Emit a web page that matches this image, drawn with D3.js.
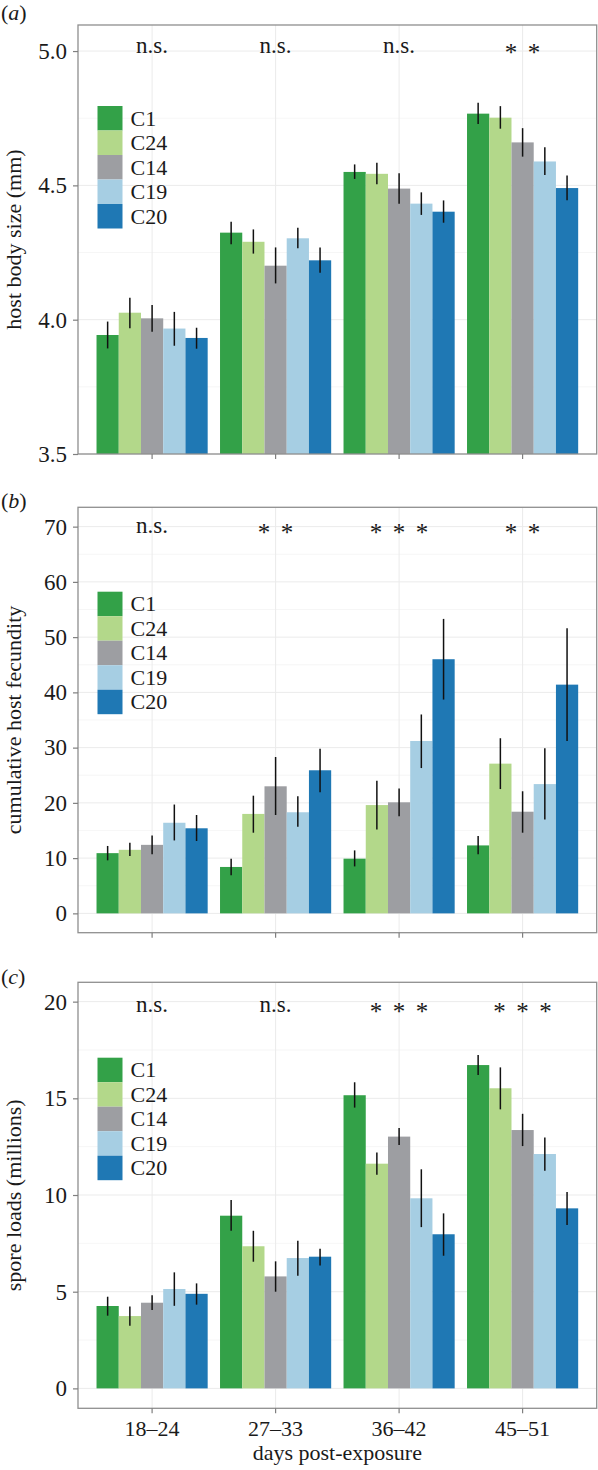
<!DOCTYPE html>
<html>
<head>
<meta charset="utf-8">
<script src="https://cdn.jsdelivr.net/npm/d3@7"></script>
<style>
  html, body { margin: 0; padding: 0; background: #fff; }
  svg { display: block; }
  text { font-family: "Liberation Serif", "Times New Roman", serif; fill: #1a1a1a; }
</style>
</head>
<body>
<script>
// ---------- data ----------
const groups = ["18–24", "27–33", "36–42", "45–51"];
const strains = ["C1", "C24", "C14", "C19", "C20"];
const strainColors = ["#33a148", "#b3d88a", "#9d9ea2", "#a6cee3", "#1f78b4"];

// (a) host body size (mm): per group, per strain
const sizeMean = [[3.943, 4.026, 4.005, 3.967, 3.932], [4.324, 4.290, 4.201, 4.303, 4.221], [4.550, 4.543, 4.488, 4.432, 4.402], [4.767, 4.752, 4.660, 4.589, 4.490]];
const sizeLo   = [[3.893, 3.968, 3.955, 3.903, 3.892], [4.281, 4.246, 4.135, 4.266, 4.175], [4.524, 4.504, 4.432, 4.390, 4.361], [4.728, 4.711, 4.607, 4.539, 4.445]];
const sizeHi   = [[3.993, 4.082, 4.055, 4.029, 3.970], [4.365, 4.336, 4.269, 4.342, 4.269], [4.578, 4.584, 4.545, 4.474, 4.444], [4.808, 4.795, 4.713, 4.642, 4.537]];
const sizeTicks = [3.5, 4.0, 4.5, 5.0];
const sizeMinor = [3.75, 4.25, 4.75];
const sizeSig = ["n.s.", "n.s.", "n.s.", "**"];

// (b) cumulative host fecundity
const fecMean = [[10.9, 11.5, 12.4, 16.4, 15.4], [8.4, 18.0, 23.0, 18.3, 25.9], [9.9, 19.6, 20.1, 31.2, 46.0], [12.3, 27.1, 18.4, 23.4, 41.4]];
const fecLo   = [[9.6, 10.4, 10.7, 13.2, 13.1], [6.9, 14.6, 17.8, 15.7, 21.9], [8.5, 15.2, 17.6, 26.3, 38.7], [10.7, 22.5, 14.6, 17.0, 31.2]];
const fecHi   = [[12.2, 12.8, 14.1, 19.7, 17.8], [9.9, 21.3, 28.3, 21.2, 29.8], [11.4, 24.0, 22.6, 36.0, 53.3], [14.0, 31.7, 22.1, 29.9, 51.6]];
const fecTicks = [0, 10, 20, 30, 40, 50, 60, 70];
const fecMinor = [5, 15, 25, 35, 45, 55, 65];
const fecSig = ["n.s.", "**", "***", "**"];

// (c) spore loads (millions)
const sporeMean = [[4.26, 3.74, 4.43, 5.14, 4.89], [8.93, 7.35, 5.79, 6.74, 6.81], [15.16, 11.62, 13.02, 9.83, 7.97], [16.72, 15.52, 13.36, 12.12, 9.31]];
const sporeLo   = [[3.76, 3.24, 4.05, 4.27, 4.33], [8.15, 6.55, 5.00, 5.83, 6.36], [14.52, 11.05, 12.59, 8.34, 6.86], [16.20, 14.43, 12.53, 11.26, 8.45]];
const sporeHi   = [[4.74, 4.24, 4.81, 6.00, 5.43], [9.74, 8.15, 6.57, 7.64, 7.22], [15.83, 12.20, 13.47, 11.33, 9.05], [17.24, 16.60, 14.20, 12.98, 10.16]];
const sporeTicks = [0, 5, 10, 15, 20];
const sporeMinor = [2.5, 7.5, 12.5, 17.5];
const sporeSig = ["n.s.", "n.s.", "***", "***"];

// ---------- layout ----------
const W = 598, H = 1470;
const left = 78, right = 596.7;

const panels = [
  { label: "a", title: "host body size (mm)", mean: sizeMean, lo: sizeLo, hi: sizeHi,
    ticks: sizeTicks, minor: sizeMinor, sig: sizeSig, fmt: d3.format(".1f"),
    top: 25, bottom: 454, domain: [3.5, 5.097], base: 3.5, sigVal: 5.0, sigDy: 2,
    labelY: 20, legendTop: 106 },
  { label: "b", title: "cumulative host fecundity", mean: fecMean, lo: fecLo, hi: fecHi,
    ticks: fecTicks, minor: fecMinor, sig: fecSig, fmt: d3.format("d"),
    top: 507.3, bottom: 932.7, domain: [-3.5, 73.5], base: 0, sigVal: 70, sigDy: 6,
    labelY: 508, legendTop: 591.7 },
  { label: "c", title: "spore loads (millions)", mean: sporeMean, lo: sporeLo, hi: sporeHi,
    ticks: sporeTicks, minor: sporeMinor, sig: sporeSig, fmt: d3.format("d"),
    top: 982.3, bottom: 1408.3, domain: [-1.03, 21.0], base: 0, sigVal: 20, sigDy: 10,
    labelY: 984, legendTop: 1057.7 }
];

const svg = d3.select("body").append("svg").attr("width", W).attr("height", H);

const x0 = d3.scaleBand().domain(groups).range([left, right]).paddingInner(0.1).paddingOuter(0.15);
const x1 = d3.scaleBand().domain(strains).range([0, x0.bandwidth()]).padding(0);
const color = d3.scaleOrdinal().domain(strains).range(strainColors);

panels.forEach((p, pi) => {
  const y = d3.scaleLinear().domain(p.domain).range([p.bottom, p.top]);
  const g = svg.append("g");

  // minor grid
  g.selectAll(".minor").data(p.minor).join("line")
    .attr("x1", left).attr("x2", right)
    .attr("y1", d => y(d)).attr("y2", d => y(d))
    .attr("stroke", "#f2f2f2").attr("stroke-width", 0.7);
  // major grid
  g.selectAll(".major").data(p.ticks).join("line")
    .attr("x1", left).attr("x2", right)
    .attr("y1", d => y(d)).attr("y2", d => y(d))
    .attr("stroke", "#ebebeb").attr("stroke-width", 1);
  g.selectAll(".vmajor").data(groups).join("line")
    .attr("x1", d => x0(d) + x0.bandwidth() / 2).attr("x2", d => x0(d) + x0.bandwidth() / 2)
    .attr("y1", p.top).attr("y2", p.bottom)
    .attr("stroke", "#ebebeb").attr("stroke-width", 1);

  // bars
  const gg = g.selectAll(".grp").data(groups).join("g")
    .attr("transform", d => `translate(${x0(d)},0)`);
  gg.selectAll("rect").data((d, gi) => strains.map((s, si) => ({ s, v: p.mean[gi][si] })))
    .join("rect")
    .attr("x", d => x1(d.s)).attr("width", x1.bandwidth())
    .attr("y", d => y(d.v)).attr("height", d => y(p.base) - y(d.v))
    .attr("fill", d => color(d.s));
  gg.selectAll("line.err").data((d, gi) => strains.map((s, si) => ({ s, lo: p.lo[gi][si], hi: p.hi[gi][si] })))
    .join("line").attr("class", "err")
    .attr("x1", d => x1(d.s) + x1.bandwidth() / 2).attr("x2", d => x1(d.s) + x1.bandwidth() / 2)
    .attr("y1", d => y(d.lo)).attr("y2", d => y(d.hi))
    .attr("stroke", "#111").attr("stroke-width", 1.5);

  // significance labels
  p.sig.forEach((s, gi) => {
    const cx = x0(groups[gi]) + x0.bandwidth() / 2;
    if (s === "n.s.") {
      g.append("text").attr("x", cx).attr("y", y(p.sigVal) + p.sigDy)
        .attr("text-anchor", "middle").attr("font-size", 23).text(s);
    } else {
      const n = s.length;
      for (let k = 0; k < n; k++) {
        g.append("text").attr("x", cx + (k - (n - 1) / 2) * 23).attr("y", y(p.sigVal) + p.sigDy + 8)
          .attr("text-anchor", "middle").attr("font-size", 25).attr("fill", "#444").text("*");
      }
    }
  });

  // panel border
  g.append("rect").attr("x", left).attr("y", p.top)
    .attr("width", right - left).attr("height", p.bottom - p.top)
    .attr("fill", "none").attr("stroke", "#8f8f8f").attr("stroke-width", 1.3);

  // y axis
  const yAxis = d3.axisLeft(y).tickValues(p.ticks).tickFormat(p.fmt).tickSize(5).tickPadding(6);
  const ya = g.append("g").attr("transform", `translate(${left},0)`).call(yAxis);
  ya.select(".domain").remove();
  ya.selectAll(".tick line").attr("stroke", "#7f7f7f").attr("stroke-width", 1.2);
  ya.selectAll(".tick text").attr("font-size", 23).attr("font-family", "Liberation Serif").attr("fill", "#1a1a1a");

  // x axis
  const xAxis = d3.axisBottom(x0).tickSize(5).tickPadding(10);
  const xa = g.append("g").attr("transform", `translate(0,${p.bottom})`).call(xAxis);
  xa.select(".domain").remove();
  xa.selectAll(".tick line").attr("stroke", "#7f7f7f").attr("stroke-width", 1.2);
  if (pi < 2) xa.selectAll(".tick text").remove();
  else xa.selectAll(".tick text").attr("font-size", 22).attr("font-family", "Liberation Serif").attr("fill", "#1a1a1a").attr("dy", "0.6em");

  // y title
  g.append("text")
    .attr("transform", `translate(21,${(p.top + p.bottom) / 2}) rotate(-90)`)
    .attr("text-anchor", "middle").attr("font-size", 22).text(p.title);

  // panel label
  const lab = g.append("text").attr("x", 1).attr("y", p.labelY).attr("font-size", 22);
  lab.append("tspan").text("(");
  lab.append("tspan").attr("font-style", "italic").text(p.label);
  lab.append("tspan").text(")");

  // legend
  const keyW = 25, keyH = 24.5, lx = 97.5;
  const lg = g.append("g");
  lg.selectAll("rect").data(strains).join("rect")
    .attr("x", lx).attr("y", (d, i) => p.legendTop + i * keyH)
    .attr("width", keyW).attr("height", keyH)
    .attr("fill", d => color(d));
  lg.selectAll("text").data(strains).join("text")
    .attr("x", lx + keyW + 8).attr("y", (d, i) => p.legendTop + i * keyH + keyH / 2 + 7.5)
    .attr("font-size", 22).text(d => d);
});

// x title
svg.append("text").attr("x", (left + right) / 2).attr("y", 1460)
  .attr("text-anchor", "middle").attr("font-size", 22).text("days post-exposure");
</script>
</body>
</html>
